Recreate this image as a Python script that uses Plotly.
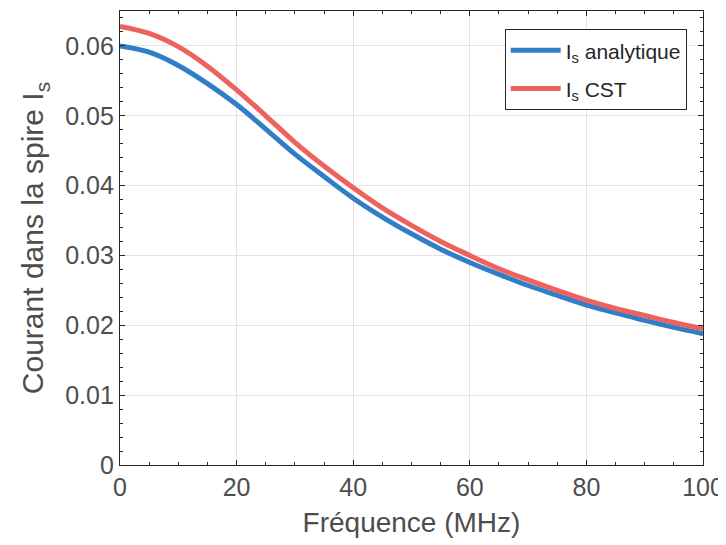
import plotly.graph_objects as go

freq_mhz = [0, 5, 10, 15, 20, 25, 30, 35, 40, 45, 50, 55, 60, 65, 70, 75, 80, 85, 90, 95, 100]
is_analytique = [0.0600, 0.0591, 0.0572, 0.0546, 0.0516, 0.0481, 0.0445, 0.0413, 0.0382, 0.0355,
                 0.0331, 0.0309, 0.0290, 0.0273, 0.0257, 0.0243, 0.0229, 0.0218, 0.0207, 0.0197, 0.0188]
is_cst = [0.0628, 0.0618, 0.0599, 0.0571, 0.0537, 0.0500, 0.0462, 0.0428, 0.0397, 0.0368,
          0.0343, 0.0320, 0.0300, 0.0281, 0.0265, 0.0250, 0.0236, 0.0224, 0.0214, 0.0204, 0.0195]
series_names = ["I<sub>s</sub> analytique", "I<sub>s</sub> CST"]
x_ticks = [0, 20, 40, 60, 80, 100]
y_ticks = [0, 0.01, 0.02, 0.03, 0.04, 0.05, 0.06]

FONT = "Liberation Sans, Arial, sans-serif"

fig = go.Figure()
fig.add_trace(go.Scatter(x=freq_mhz, y=is_analytique, mode="lines", name=series_names[0],
                         legendgroup="a",
                         line=dict(color="#2f7ec7", width=5, shape="spline")))
fig.add_trace(go.Scatter(x=freq_mhz, y=is_cst, mode="lines", name=series_names[1],
                         legendgroup="b",
                         line=dict(color="#ee625d", width=5, shape="spline")))

axis_common = dict(
    showline=True, linecolor="#262626", linewidth=1.2, mirror="ticks",
    ticks="inside", ticklen=5, tickcolor="#262626",
    showgrid=True, gridcolor="#e3e3e3", gridwidth=1, zeroline=False,
    automargin=False,
    tickfont=dict(family=FONT, size=25, color="#4d4d4d"),
)

fig.update_xaxes(range=[0, 100], tickvals=x_ticks, ticktext=[str(v) for v in x_ticks],
                 minor=dict(ticks="inside", ticklen=3, tickcolor="#262626", dtick=5, showgrid=False),
                 title=dict(text="Fréquence (MHz)", font=dict(family=FONT, size=28, color="#4d4d4d"), standoff=12),
                 **axis_common)
fig.update_yaxes(range=[0, 0.065], tickvals=y_ticks, ticktext=["0"] + [f"{v:.2f}" for v in y_ticks[1:]],
                 minor=dict(ticks="inside", ticklen=3, tickcolor="#262626", dtick=0.002, showgrid=False),
                 title=dict(text="Courant dans la spire I<sub>s</sub>", font=dict(family=FONT, size=30, color="#4d4d4d"), standoff=12),
                 **axis_common)

fig.update_layout(
    width=718, height=537,
    margin=dict(l=112, r=23, t=3, b=80),
    paper_bgcolor="white", plot_bgcolor="white",
    showlegend=True,
    legend=dict(x=0.972, y=0.96, xanchor="right", yanchor="top",
                bgcolor="white", bordercolor="#262626", borderwidth=1,
                font=dict(family=FONT, size=21, color="#262626"),
                tracegroupgap=8, itemwidth=50),
)

fig.write_html("out.html")
